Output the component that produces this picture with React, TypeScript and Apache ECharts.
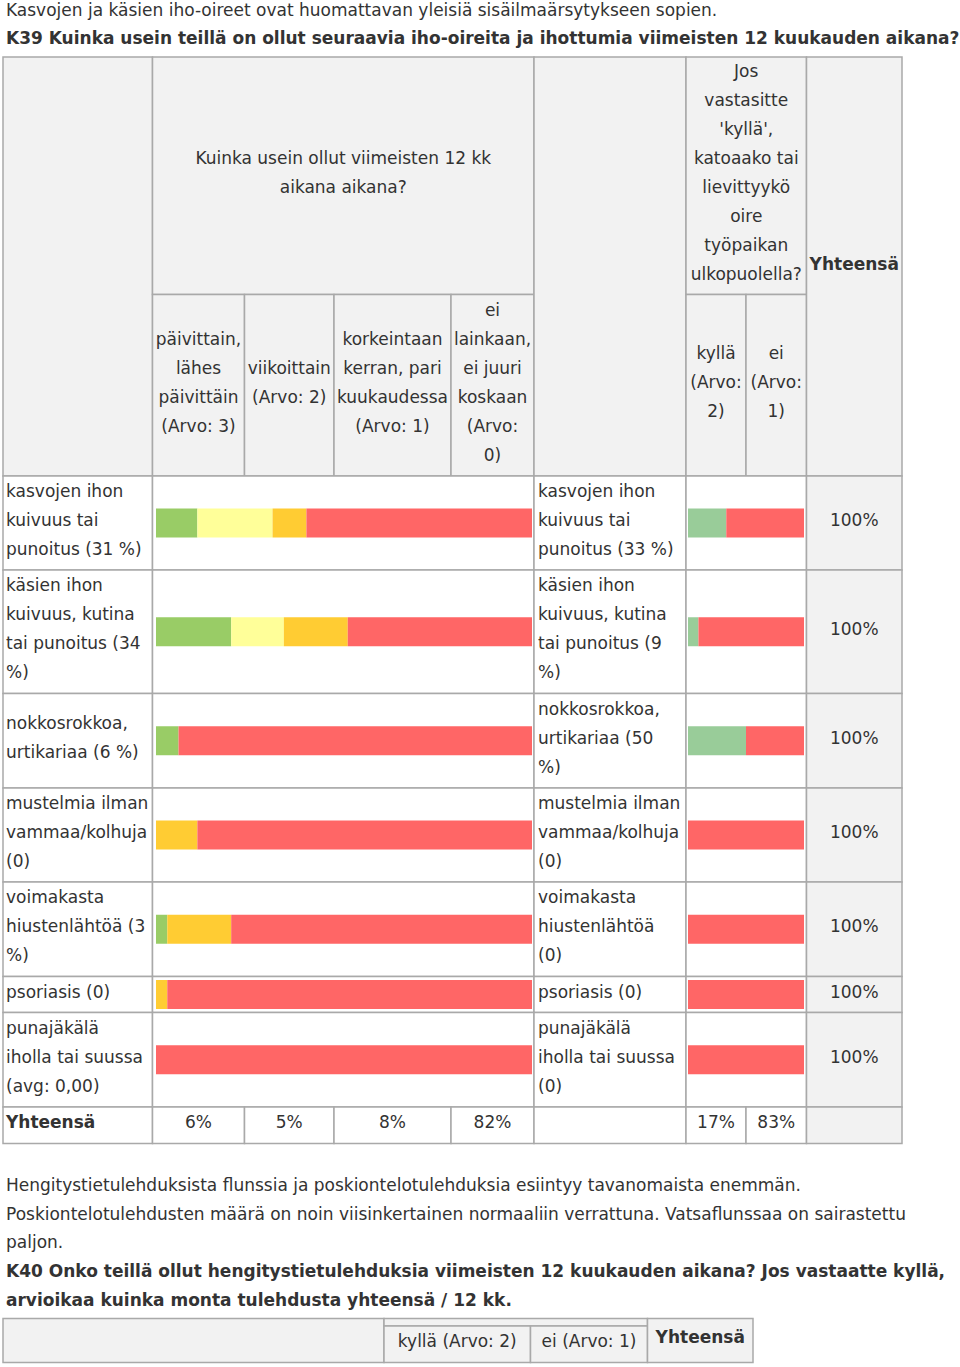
import React, { useEffect, useRef } from "react";
import * as echarts from "echarts";

// ---------- data ----------
const introText = "Kasvojen ja käsien iho-oireet ovat huomattavan yleisiä sisäilmaärsytykseen sopien.";
const questionK39 = "K39 Kuinka usein teillä on ollut seuraavia iho-oireita ja ihottumia viimeisten 12 kuukauden aikana?";
const freqHeader = ["Kuinka usein ollut viimeisten 12 kk", "aikana aikana?"];
const freqCategories = [
  ["päivittain,", "lähes", "päivittäin", "(Arvo: 3)"],
  ["viikoittain", "(Arvo: 2)"],
  ["korkeintaan", "kerran, pari", "kuukaudessa", "(Arvo: 1)"],
  ["ei", "lainkaan,", "ei juuri", "koskaan", "(Arvo:", "0)"],
];
const outsideHeader = ["Jos", "vastasitte", "'kyllä',", "katoaako tai", "lievittyykö", "oire", "työpaikan", "ulkopuolella?"];
const outsideCategories = [
  ["kyllä", "(Arvo:", "2)"],
  ["ei", "(Arvo:", "1)"],
];
const rowLabelsLeft = [
  ["kasvojen ihon", "kuivuus tai", "punoitus (31 %)"],
  ["käsien ihon", "kuivuus, kutina", "tai punoitus (34", "%)"],
  ["nokkosrokkoa,", "urtikariaa (6 %)"],
  ["mustelmia ilman", "vammaa/kolhuja", "(0)"],
  ["voimakasta", "hiustenlähtöä (3", "%)"],
  ["psoriasis (0)"],
  ["punajäkälä", "iholla tai suussa", "(avg: 0,00)"],
];
const rowLabelsRight = [
  ["kasvojen ihon", "kuivuus tai", "punoitus (33 %)"],
  ["käsien ihon", "kuivuus, kutina", "tai punoitus (9", "%)"],
  ["nokkosrokkoa,", "urtikariaa (50", "%)"],
  ["mustelmia ilman", "vammaa/kolhuja", "(0)"],
  ["voimakasta", "hiustenlähtöä", "(0)"],
  ["psoriasis (0)"],
  ["punajäkälä", "iholla tai suussa", "(0)"],
];
const daily = [11, 20, 6, 0, 3, 0, 0];
const weekly = [20, 14, 0, 0, 0, 0, 0];
const monthly = [9, 17, 0, 11, 17, 3, 0];
const never = [60, 49, 94, 89, 80, 97, 100];
const outsideYes = [33, 9, 50, 0, 0, 0, 0];
const outsideNo = [67, 91, 50, 100, 100, 100, 100];
const freqTotals = ["6%", "5%", "8%", "82%"];
const outsideTotals = ["17%", "83%"];
const totalLabel = "Yhteensä";
const paragraphs = [
  "Hengitystietulehduksista flunssia ja poskiontelotulehduksia esiintyy tavanomaista enemmän.",
  "Poskiontelotulehdusten määrä on noin viisinkertainen normaaliin verrattuna. Vatsaflunssaa on sairastettu",
  "paljon.",
];
const questionK40 = [
  "K40 Onko teillä ollut hengitystietulehduksia viimeisten 12 kuukauden aikana? Jos vastaatte kyllä,",
  "arvioikaa kuinka monta tulehdusta yhteensä / 12 kk.",
];
const k40Categories = ["kyllä (Arvo: 2)", "ei (Arvo: 1)"];

// ---------- layout / style ----------
const FONT = "'DejaVu Sans', Verdana, sans-serif";
const FS = 17;
const TXT = "#333333";
const BORDER = "#a9a9a9";
const HEAD_BG = "#f2f2f2";
const LH = 29;
const freqColors = ["#99cc66", "#ffff99", "#ffcc33", "#ff6666"];
const outsideColors = ["#99cc99", "#ff6666"];

const X0 = 3, X1 = 152.5, XA = 244.5, XB = 334, XC = 451, X2 = 534, X3 = 686, XD = 746, X4 = 806.5, X5 = 902;
const Y0 = 57, YH = 294.5, Y1 = 476;
const rowEdges = [476, 570, 693.5, 788, 882, 976.5, 1012.5, 1107, 1143.5];

export default function App() {
  const ref = useRef<HTMLDivElement>(null);
  useEffect(() => {
    if (!ref.current) return;
    const chart = echarts.init(ref.current, null, { renderer: "svg" });
    const g: any[] = [];
    const cell = (x1: number, y1: number, x2: number, y2: number, fill: string) => {
      g.push({
        type: "rect",
        z: 0,
        shape: { x: x1, y: y1, width: x2 - x1, height: y2 - y1 },
        style: { fill, stroke: BORDER, lineWidth: 1.5 },
      });
    };
    const text = (t: string, x: number, y: number, align: string, bold = false) => {
      g.push({
        type: "text",
        z: 10,
        x,
        y,
        style: {
          text: t,
          fill: TXT,
          font: `${bold ? "bold " : ""}${FS}px ${FONT}`,
          fontSize: FS,
          fontFamily: FONT,
          fontWeight: bold ? "bold" : "normal",
          align,
          verticalAlign: "middle",
          textAlign: align,
          textVerticalAlign: "middle",
        },
      });
    };
    const block = (lines: string[], x: number, cy: number, align: string, bold = false) => {
      const start = cy - 3 - ((lines.length - 1) * LH) / 2;
      lines.forEach((l, i) => text(l, x, start + i * LH, align, bold));
    };

    // header cells
    cell(X0, Y0, X1, Y1, HEAD_BG);
    cell(X1, Y0, X2, YH, HEAD_BG);
    const subX = [X1, XA, XB, XC, X2];
    for (let i = 0; i < 4; i++) cell(subX[i], YH, subX[i + 1], Y1, HEAD_BG);
    cell(X2, Y0, X3, Y1, HEAD_BG);
    cell(X3, Y0, X4, YH, HEAD_BG);
    const subR = [X3, XD, X4];
    for (let i = 0; i < 2; i++) cell(subR[i], YH, subR[i + 1], Y1, HEAD_BG);
    cell(X4, Y0, X5, Y1, HEAD_BG);

    block(freqHeader, (X1 + X2) / 2, (Y0 + YH) / 2, "center");
    freqCategories.forEach((lines, i) => block(lines, (subX[i] + subX[i + 1]) / 2, (YH + Y1) / 2, "center"));
    block(outsideHeader, (X3 + X4) / 2, (Y0 + YH) / 2, "center");
    outsideCategories.forEach((lines, i) => block(lines, (subR[i] + subR[i + 1]) / 2, (YH + Y1) / 2, "center"));
    block([totalLabel], (X4 + X5) / 2, (Y0 + Y1) / 2, "center", true);

    // body rows
    const grids: any[] = [];
    const xAxes: any[] = [];
    const yAxes: any[] = [];
    const series: any[] = [];
    const freqSeries = [daily, weekly, monthly, never];
    const outSeries = [outsideYes, outsideNo];
    rowLabelsLeft.forEach((lines, r) => {
      const top = rowEdges[r], bot = rowEdges[r + 1];
      const cy = (top + bot) / 2;
      cell(X0, top, X1, bot, "#ffffff");
      cell(X1, top, X2, bot, "#ffffff");
      cell(X2, top, X3, bot, "#ffffff");
      cell(X3, top, X4, bot, "#ffffff");
      cell(X4, top, X5, bot, HEAD_BG);
      block(lines, 6, cy, "left");
      block(rowLabelsRight[r], 538, cy, "left");
      const sum = outsideYes[r] + outsideNo[r];
      block([`${sum}%`], (X4 + X5) / 2, cy, "center");

      const cat = lines.join(" ");
      const gl = grids.length;
      grids.push({ left: 156, width: 376, top, height: bot - top });
      grids.push({ left: 688, width: 116, top, height: bot - top });
      [gl, gl + 1].forEach((gi) => {
        xAxes.push({ type: "value", gridIndex: gi, min: 0, max: 100, show: false });
        yAxes.push({ type: "category", gridIndex: gi, data: [cat], show: false });
      });
      freqSeries.forEach((arr, s) => {
        series.push({
          type: "bar",
          xAxisIndex: gl,
          yAxisIndex: gl,
          stack: "f" + r,
          barWidth: 29,
          data: [arr[r]],
          itemStyle: { color: freqColors[s] },
          silent: true,
        });
      });
      outSeries.forEach((arr, s) => {
        series.push({
          type: "bar",
          xAxisIndex: gl + 1,
          yAxisIndex: gl + 1,
          stack: "o" + r,
          barWidth: 29,
          data: [arr[r]],
          itemStyle: { color: outsideColors[s] },
          silent: true,
        });
      });
    });

    // totals row
    const tTop = rowEdges[7], tBot = rowEdges[8];
    const tcy = (tTop + tBot) / 2;
    cell(X0, tTop, X1, tBot, "#ffffff");
    for (let i = 0; i < 4; i++) {
      cell(subX[i], tTop, subX[i + 1], tBot, "#ffffff");
      block([freqTotals[i]], (subX[i] + subX[i + 1]) / 2, tcy, "center");
    }
    cell(X2, tTop, X3, tBot, "#ffffff");
    for (let i = 0; i < 2; i++) {
      cell(subR[i], tTop, subR[i + 1], tBot, "#ffffff");
      block([outsideTotals[i]], (subR[i] + subR[i + 1]) / 2, tcy, "center");
    }
    cell(X4, tTop, X5, tBot, HEAD_BG);
    block([totalLabel], 6, tcy, "left", true);

    // top texts
    text(introText, 6, 10, "left");
    text(questionK39, 6, 38, "left", true);

    // bottom texts
    paragraphs.forEach((p, i) => text(p, 6, [1185, 1214, 1242][i], "left"));
    questionK40.forEach((p, i) => text(p, 6, [1271, 1300][i], "left", true));

    // K40 table
    const B0 = 3, B1 = 384, B2 = 530.5, B3 = 647.5, B4 = 753;
    const BY0 = 1318.5, BY1 = 1326, BY2 = 1362.5;
    cell(B0, BY0, B1, BY2, HEAD_BG);
    cell(B1, BY0, B3, BY1, HEAD_BG);
    cell(B1, BY1, B2, BY2, HEAD_BG);
    cell(B2, BY1, B3, BY2, HEAD_BG);
    cell(B3, BY0, B4, BY2, HEAD_BG);
    text(k40Categories[0], (B1 + B2) / 2, 1341, "center");
    text(k40Categories[1], (B2 + B3) / 2, 1341, "center");
    text(totalLabel, (B3 + B4) / 2, 1337, "center", true);

    chart.setOption({
      animation: false,
      grid: grids,
      xAxis: xAxes,
      yAxis: yAxes,
      series,
      graphic: { elements: g },
    });
    return () => chart.dispose();
  }, []);
  return (
    <div
      ref={ref}
      style={{ position: "absolute", left: 0, top: 0, width: 960, height: 1367, background: "#ffffff" }}
    />
  );
}
